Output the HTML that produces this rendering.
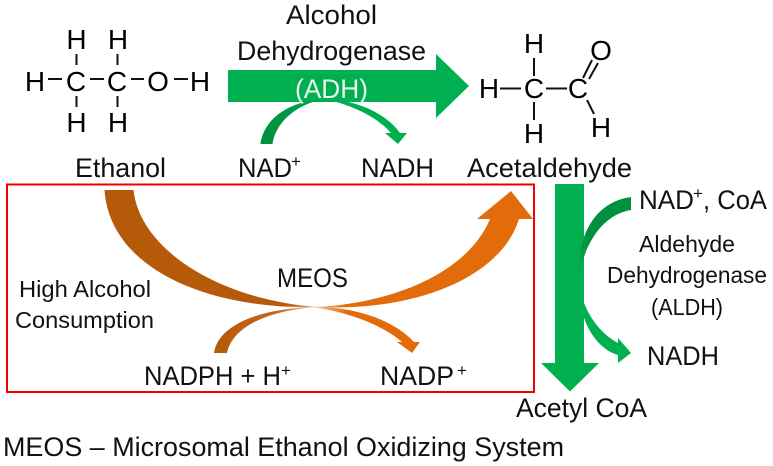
<!DOCTYPE html>
<html><head><meta charset="utf-8"><style>
html,body{margin:0;padding:0;background:#fff}
svg{display:block;filter:blur(.3px)}
text{font-family:"Liberation Sans",sans-serif;fill:#111}
.c{font-size:28px;text-anchor:middle;fill:#000}
.l{font-size:27px}
.s{font-size:23px}
.p{font-size:17px}
.b{stroke:#111;stroke-width:2;fill:none}
</style></head><body>
<svg width="773" height="466" viewBox="0 0 773 466" xmlns="http://www.w3.org/2000/svg">
<defs>
<linearGradient id="gb" gradientUnits="userSpaceOnUse" x1="105" y1="0" x2="318" y2="0"><stop offset="0" stop-color="#b45a09"/><stop offset=".85" stop-color="#b45a09"/><stop offset="1" stop-color="#e8b080"/></linearGradient>
<linearGradient id="go" gradientUnits="userSpaceOnUse" x1="316" y1="0" x2="520" y2="0"><stop offset="0" stop-color="#f0c090"/><stop offset=".15" stop-color="#e36c0a"/><stop offset="1" stop-color="#e36c0a"/></linearGradient>
<linearGradient id="gsb" gradientUnits="userSpaceOnUse" x1="214" y1="0" x2="316" y2="0"><stop offset="0" stop-color="#b45a09"/><stop offset=".6" stop-color="#c8651a"/><stop offset="1" stop-color="#e8b080"/></linearGradient>
<linearGradient id="gso" gradientUnits="userSpaceOnUse" x1="316" y1="0" x2="420" y2="0"><stop offset="0" stop-color="#f0c090"/><stop offset=".3" stop-color="#e36c0a"/><stop offset="1" stop-color="#e36c0a"/></linearGradient>
<linearGradient id="gg" gradientUnits="userSpaceOnUse" x1="261" y1="0" x2="330" y2="0"><stop offset="0" stop-color="#008f3c"/><stop offset="1" stop-color="#00a84c"/></linearGradient>
<linearGradient id="gd" gradientUnits="userSpaceOnUse" x1="0" y1="197" x2="0" y2="277"><stop offset="0" stop-color="#00913f"/><stop offset=".5" stop-color="#00913f"/><stop offset="1" stop-color="#00ac4e"/></linearGradient>
</defs>

<!-- ADH arrow -->
<polygon fill="#00b050" points="228,70 436,70 436,54 469,86 436,118 436,102 228,102"/>
<path fill="url(#gg)" d="M260.500,144 C263,122 285,101 325,99 C295,104 275,124 272.500,144 Z"/>
<path fill="#00b050" d="M325,99 C355,100 385,112 400,133 L391,133 C378,118 355,106 325,99 Z"/>
<polygon fill="#00b050" points="385,133 407,133 398,144"/>

<text class="l" x="286" y="24" textLength="91" lengthAdjust="spacingAndGlyphs">Alcohol</text>
<text class="l" x="237" y="60" textLength="189" lengthAdjust="spacingAndGlyphs">Dehydrogenase</text>
<text class="l" x="295" y="98" textLength="73" lengthAdjust="spacingAndGlyphs" style="fill:#e8f8ee">(ADH)</text>

<!-- Ethanol structure -->
<text class="c" x="76.500" y="49">H</text><text class="c" x="118" y="49">H</text>
<text class="c" x="35" y="91">H</text><text class="c" x="76" y="91">C</text><text class="c" x="117" y="91">C</text><text class="c" x="158" y="91">O</text><text class="c" x="200" y="91">H</text>
<text class="c" x="76.500" y="132">H</text><text class="c" x="118" y="132">H</text>
<path class="b" d="M76.500,54V65M117.500,54V65M76.500,96V107M117.500,96V107M48,79H62M90,79H104M131,79H144M174,79H188"/>
<!-- Acetaldehyde structure -->
<text class="c" x="534" y="53">H</text>
<text class="c" x="489" y="98">H</text><text class="c" x="534" y="98">C</text><text class="c" x="578" y="98">C</text>
<text class="c" x="601" y="60">O</text>
<text class="c" x="534" y="143">H</text><text class="c" x="601" y="137">H</text>
<path class="b" d="M534,58V76M534,102V120M500,88.500H521M546,88.500H567M583,78L592,60M589,79L598,63M587,100L594,114"/>

<text class="l" x="75" y="177" textLength="91" lengthAdjust="spacingAndGlyphs">Ethanol</text>
<text class="l" x="238" y="177" textLength="54" lengthAdjust="spacingAndGlyphs">NAD</text>
<text class="p" x="291" y="167">+</text>
<text class="l" x="361" y="177" textLength="73" lengthAdjust="spacingAndGlyphs">NADH</text>
<text class="l" x="467" y="177" textLength="165" lengthAdjust="spacingAndGlyphs">Acetaldehyde</text>

<!-- red box -->
<rect x="7" y="184.500" width="527" height="207.500" fill="none" stroke="#f00000" stroke-width="2"/>

<!-- MEOS arcs -->
<path fill="url(#gb)" d="M104.500,190 H133.500 C140,250 220,300 318,307 C210,310 110,270 104.500,190 Z"/>
<path fill="url(#go)" d="M316,307 C395,303 468,272 490,219 H477 L511,191 L533,219 H519 C500,280 410,312 316,307 Z"/>
<path fill="url(#gsb)" d="M214,353 C218,325 260,308 316,307 C265,311 232,328 227,353 Z"/>
<path fill="url(#gso)" d="M312,307 C350,306 392,318 414,342 H420 L412,353 L397,342 H402 C388,330 360,314 312,307 Z"/>

<text class="s" x="19" y="297" textLength="132" lengthAdjust="spacingAndGlyphs">High Alcohol</text>
<text class="s" x="15" y="328" textLength="139" lengthAdjust="spacingAndGlyphs">Consumption</text>
<text class="l" x="277" y="287" textLength="71" lengthAdjust="spacingAndGlyphs">MEOS</text>
<text class="l" x="144" y="385" textLength="137" lengthAdjust="spacingAndGlyphs">NADPH + H</text>
<text class="p" x="281" y="376">+</text>
<text class="l" x="380" y="385" textLength="74" lengthAdjust="spacingAndGlyphs">NADP</text>
<text class="p" x="457" y="376">+</text>

<!-- ALDH arrow -->
<polygon fill="#00b050" points="555,184 584,184 584,363 599,363 570,391.500 541,363 555,363"/>
<path fill="url(#gd)" d="M631,197 V210 C605,214 585,240 579,277 C577,235 595,202 631,197 Z"/>
<path fill="#00b050" d="M583,300 C590,320 603,335 618,343 V338 L631,353 L618,363 V355 C600,350 586,330 582,310 Z"/>

<text class="l" x="639" y="209" textLength="55" lengthAdjust="spacingAndGlyphs">NAD</text>
<text class="p" x="693" y="199">+</text>
<text class="l" x="703" y="209" textLength="64" lengthAdjust="spacingAndGlyphs">, CoA</text>
<text class="s" x="639" y="252" textLength="96" lengthAdjust="spacingAndGlyphs">Aldehyde</text>
<text class="s" x="607" y="283" textLength="160" lengthAdjust="spacingAndGlyphs">Dehydrogenase</text>
<text class="s" x="651" y="315" textLength="72" lengthAdjust="spacingAndGlyphs">(ALDH)</text>
<text class="l" x="647" y="365" textLength="72" lengthAdjust="spacingAndGlyphs">NADH</text>
<text class="l" x="516" y="417" textLength="131" lengthAdjust="spacingAndGlyphs">Acetyl CoA</text>
<text class="l" x="3" y="456" textLength="561" lengthAdjust="spacingAndGlyphs">MEOS – Microsomal Ethanol Oxidizing System</text>
</svg>
</body></html>
